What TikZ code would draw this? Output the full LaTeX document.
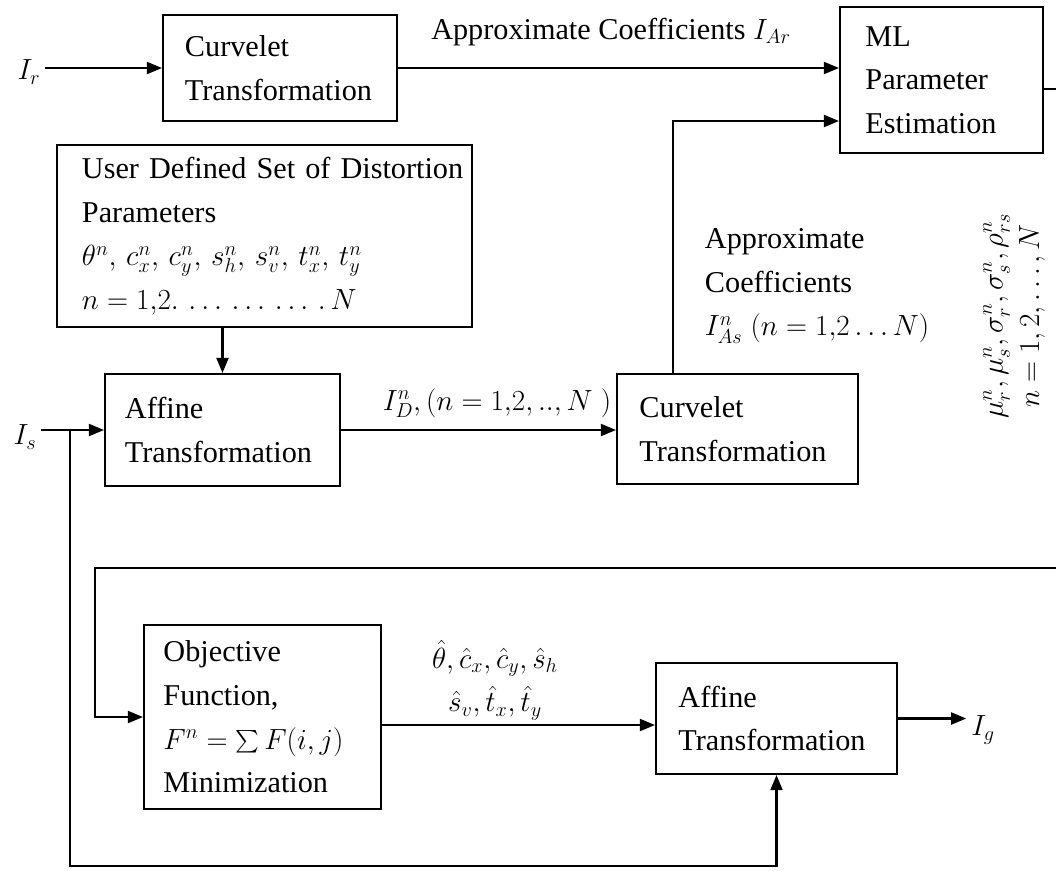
\documentclass[tikz,border=0pt]{standalone}
\usepackage{fontspec}
\setmainfont{Liberation Serif}
\usetikzlibrary{calc,arrows.meta}

\begin{document}
\begin{tikzpicture}[x=0.025cm, y=-0.025cm, font=\fontsize{21.5}{31}\selectfont,
	blk/.style={draw, line width=1.4pt, align=left, inner sep=0pt},
	arr/.style={line width=1.6pt, -{Triangle[length=0.38cm,width=0.3cm]}},
	ln/.style={line width=1.6pt}]
		%%%%% START %%%%%
		\useasboundingbox (0,0) rectangle (1056,870);
		
		\node[blk, minimum width=5.85cm, minimum height=2.65cm, text width=4.75cm] (ctop) at (280,68) {Curvelet\\Transformation};
		\node[blk, minimum width=5.075cm, minimum height=3.65cm, text width=3.8cm] (ml) at (941.5,80) {ML\\Parameter\\Estimation};
		\node[blk, minimum width=10.375cm, minimum height=4.55cm, text width=9.125cm] (user) at (264.5,236) {\mbox{User Defined Set of Distortion}\\Parameters\\$\theta^n,\,c_x^n,\,c_y^n,\,s_h^n,\,s_v^n,\,t_x^n,\,t_y^n$\\$n=1{,}2.\,\ldots\,\ldots\,\ldots\,.\,N$};
		\node[blk, minimum width=5.875cm, minimum height=2.8cm, text width=4.875cm] (aff1) at (222.5,430) {Affine\\Transformation};
		\node[blk, minimum width=6.025cm, minimum height=2.75cm, text width=4.9cm] (cv2) at (737.5,429) {Curvelet\\Transformation};
		\node[blk, minimum width=5.925cm, minimum height=4.6cm, text width=4.95cm] (obj) at (262.5,717) {Objective\\Function,\\$F^n=\mathop{\raisebox{-0.3ex}{\scalebox{1.6}{$\sum$}}}F(i,j)$\\Minimization};
		\node[blk, minimum width=6.025cm, minimum height=2.775cm, text width=4.9cm] (aff2) at (776.5,718.5) {Affine\\Transformation};
		
		% inputs and outputs
		\node (ir) at (29,72) {$I_r$};
		\node (is) at (25,437) {$I_s$};
		\node (ig) at (983,730) {$I_g$};
		\node (acr) at (611,32) {Approximate Coefficients $I_{Ar}$};
		\node[anchor=west, align=left] (acs) at (700,286) {Approximate\\Coefficients\\$I_{As}^n\;(n=1{,}2\ldots N)$};
		\node (idn) at (497,403) {$I_D^n,(n=1{,}2,..,N\;)$};
		\node[align=center] (hat) at (495,680) {$\hat\theta,\hat c_x,\hat c_y,\hat s_h$\\$\hat s_v,\hat t_x,\hat t_y$};
		\node[rotate=90, align=center, font=\fontsize{20}{26}\selectfont] (mlout) at (1014,316) {$\mu_r^n,\mu_s^n,\sigma_r^n,\sigma_s^n,\rho_{rs}^n$\\$n=1,2,\ldots,N$};
		
		\coordinate (mlend) at (1056,89);
		\coordinate (fbin) at (1056,568);
		\coordinate (isj) at (70,430);
		
		\draw[arr] (ir.east |- ctop.west) -- (ctop.west);
		\draw[arr] (ctop.east) -- (ctop.east -| ml.west);
		\draw[arr] ($(cv2.north)+(-64.5,0)$) |- ($(ml.west)+(0,41)$);
		\draw[ln] (ml.east |- mlend) -- (mlend);
		\draw[arr] (aff1.north |- user.south) -- (aff1.north);
		\draw[arr] (is.east |- aff1.west) -- (aff1.west);
		\draw[arr] (aff1.east) -- (aff1.east -| cv2.west);
		
		\draw[arr] (fbin) -- (95,568) |- (obj.west);
		\draw[arr] ($(obj.east |- aff2.west)+(0,6.5)$) -- ($(aff2.west)+(0,6.5)$);
		\draw[arr] (aff2.east) -- (aff2.east -| ig.west);
		\draw[arr] (isj) -- (70,866) -| (aff2.south);
		
		%%%%% END %%%%%
\end{tikzpicture}
\end{document}
